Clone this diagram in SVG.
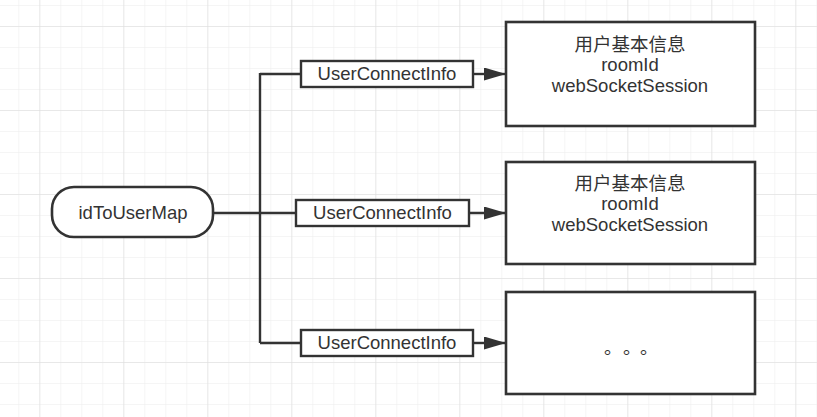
<svg xmlns="http://www.w3.org/2000/svg" width="817" height="417" viewBox="0 0 817 417">
<defs>
<pattern id="minor" x="18.3" y="5" width="21" height="21" patternUnits="userSpaceOnUse">
<path d="M0 0V21M0 0H21" fill="none" stroke="#ececec" stroke-width="1"/>
</pattern>
<pattern id="major" x="39.3" y="26" width="84" height="84" patternUnits="userSpaceOnUse">
<path d="M0 0V84M0 0H84" fill="none" stroke="#dcdcdc" stroke-width="1"/>
</pattern>
<marker id="arr" viewBox="0 0 22 13" refX="21" refY="6.5" markerWidth="22" markerHeight="13" orient="auto" markerUnits="userSpaceOnUse">
<path d="M0 0L22 6.5L0 13z" fill="#333"/>
</marker>
</defs>
<style>
.box{fill:#fff;stroke:#333;stroke-width:2.6}
.lbl{fill:#fff;stroke:#333;stroke-width:2.4}
.t{font-family:"Liberation Sans","Noto Sans CJK SC",sans-serif;font-size:18.5px;fill:#333;text-anchor:middle}
.c{fill:none;stroke:#333;stroke-width:2.4}
</style>
<rect width="817" height="417" fill="#fff"/>
<rect width="817" height="417" fill="url(#minor)"/>
<rect width="817" height="417" fill="url(#major)"/>
<g id="connectors">
<path class="c" d="M213 213H260" stroke-width="3"/>
<path class="c" d="M260 213H296"/>
<path class="c" d="M260 73V343"/>
<path class="c" d="M260 74H301"/>
<path class="c" d="M260 343H301"/>
<path class="c" d="M473 74H505" marker-end="url(#arr)"/>
<path class="c" d="M469 213H505" marker-end="url(#arr)"/>
<path class="c" d="M473 343H505" marker-end="url(#arr)"/>
</g>
<g id="idToUserMap">
<rect class="box" x="52" y="187" width="161" height="50" rx="22"/>
<text class="t" x="133" y="219">idToUserMap</text>
</g>
<g id="label1">
<rect class="lbl" x="301" y="61" width="172" height="26"/>
<text class="t" x="387" y="80">UserConnectInfo</text>
</g>
<g id="label2">
<rect class="lbl" x="296" y="200" width="173" height="26"/>
<text class="t" x="382.5" y="219">UserConnectInfo</text>
</g>
<g id="label3">
<rect class="lbl" x="301" y="330" width="172" height="26"/>
<text class="t" x="387" y="349">UserConnectInfo</text>
</g>
<g id="info1">
<rect class="box" x="506" y="22" width="249" height="104"/>
<text class="t" x="630" y="51">用户基本信息</text>
<text class="t" x="630" y="71">roomId</text>
<text class="t" x="630" y="92">webSocketSession</text>
</g>
<g id="info2">
<rect class="box" x="506" y="162" width="249" height="102"/>
<text class="t" x="630" y="190">用户基本信息</text>
<text class="t" x="630" y="210">roomId</text>
<text class="t" x="630" y="231">webSocketSession</text>
</g>
<g id="info3">
<rect class="box" x="506" y="292" width="249" height="102"/>
<text x="604 623 640" y="354" style="font-family:'Noto Sans CJK SC',sans-serif;font-size:18px;fill:#333">。。。</text>
</g>
</svg>
